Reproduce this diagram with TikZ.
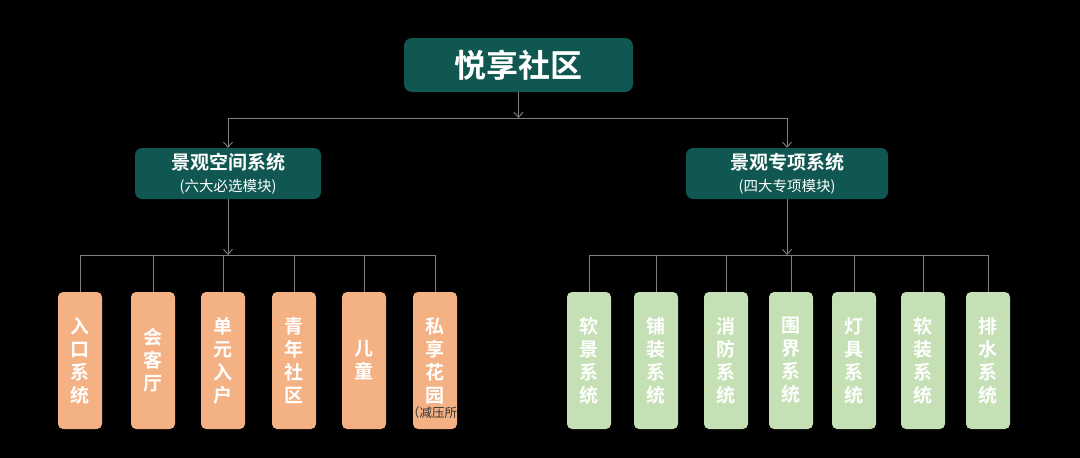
\documentclass[tikz,border=0pt]{standalone}
\usepackage{fontspec}
\setmainfont{Noto Sans CJK SC}[BoldFont={Noto Sans CJK SC Bold}]
\usetikzlibrary{arrows.meta}
\definecolor{teal}{HTML}{0F5750}
\definecolor{peach}{HTML}{F4B183}
\definecolor{sage}{HTML}{C5E0B4}
\definecolor{wire}{HTML}{808080}
\begin{document}
\begin{tikzpicture}[x=1pt, y=-1pt,
	root/.style={ fill=teal, rounded corners=8pt, text=white, font=\bfseries\fontsize{32}{36}\selectfont, minimum width=229pt, minimum height=54pt, inner sep=0pt },
	group/.style={ fill=teal, rounded corners=7pt, text=white, align=center, font=\fontsize{14.5}{22}\selectfont, minimum height=51pt, inner sep=0pt },
	leafo/.style={ fill=peach, rounded corners=5pt, text=white, align=center, font=\bfseries\fontsize{19}{23}\selectfont, minimum width=44pt, minimum height=137pt, inner sep=0pt },
	leafg/.style={ fill=sage, rounded corners=5pt, text=white, align=center, font=\bfseries\fontsize{19}{23}\selectfont, minimum width=44pt, minimum height=137pt, inner sep=0pt },
	wire/.style={ draw=wire, line width=0.9pt },
	arr/.style={ wire, -{Straight Barb[length=5pt,width=9pt]} }
]
\useasboundingbox[fill=black] (0,0) rectangle (1080,458);

\node[root] at (518.5,65) (top) {悦享社区};

\node[group, minimum width=186pt] at (228,173.5) (lmid) {{\bfseries\fontsize{19}{22}\selectfont 景观空间系统}\\(六大必选模块)};
\node[group, minimum width=202pt] at (787,173.5) (rmid) {{\bfseries\fontsize{19}{22}\selectfont 景观专项系统}\\(四大专项模块)};

\coordinate (busA) at (518.5,118);
\draw[arr] (top.south) -- (busA);
\draw[arr] (busA) -| (lmid.north);
\draw[arr] (busA) -| (rmid.north);

% left group
\node[leafo] at (80,360.5) (l1) {入\\口\\系\\统};
\node[leafo] at (153,360.5) (l2) {会\\客\\厅};
\node[leafo] at (223,360.5) (l3) {单\\元\\入\\户};
\node[leafo] at (294,360.5) (l4) {青\\年\\社\\区};
\node[leafo] at (364,360.5) (l5) {儿\\童};
\node[leafo] at (435,360.5) (l6) {私\\享\\花\\园};
\node[text=black!80, font=\fontsize{12.5}{14}\selectfont, inner sep=0pt] at (432,413) (l6note) {（减压所};

\coordinate (busL) at (228,255);
\draw[arr] (lmid.south) -- (busL);
\draw[wire] (busL) -| (l1.north);
\draw[wire] (busL) -| (l2.north);
\draw[wire] (busL) -| (l3.north);
\draw[wire] (busL) -| (l4.north);
\draw[wire] (busL) -| (l5.north);
\draw[wire] (busL) -| (l6.north);

% right group
\node[leafg] at (589,360.5) (r1) {软\\景\\系\\统};
\node[leafg] at (656,360.5) (r2) {铺\\装\\系\\统};
\node[leafg] at (726,360.5) (r3) {消\\防\\系\\统};
\node[leafg] at (791,360.5) (r4) {围\\界\\系\\统};
\node[leafg] at (854,360.5) (r5) {灯\\具\\系\\统};
\node[leafg] at (923,360.5) (r6) {软\\装\\系\\统};
\node[leafg] at (988,360.5) (r7) {排\\水\\系\\统};

\coordinate (busR) at (787,255);
\draw[arr] (rmid.south) -- (busR);
\draw[wire] (busR) -| (r1.north);
\draw[wire] (busR) -| (r2.north);
\draw[wire] (busR) -| (r3.north);
\draw[wire] (busR) -| (r4.north);
\draw[wire] (busR) -| (r5.north);
\draw[wire] (busR) -| (r6.north);
\draw[wire] (busR) -| (r7.north);

\end{tikzpicture}
\end{document}
